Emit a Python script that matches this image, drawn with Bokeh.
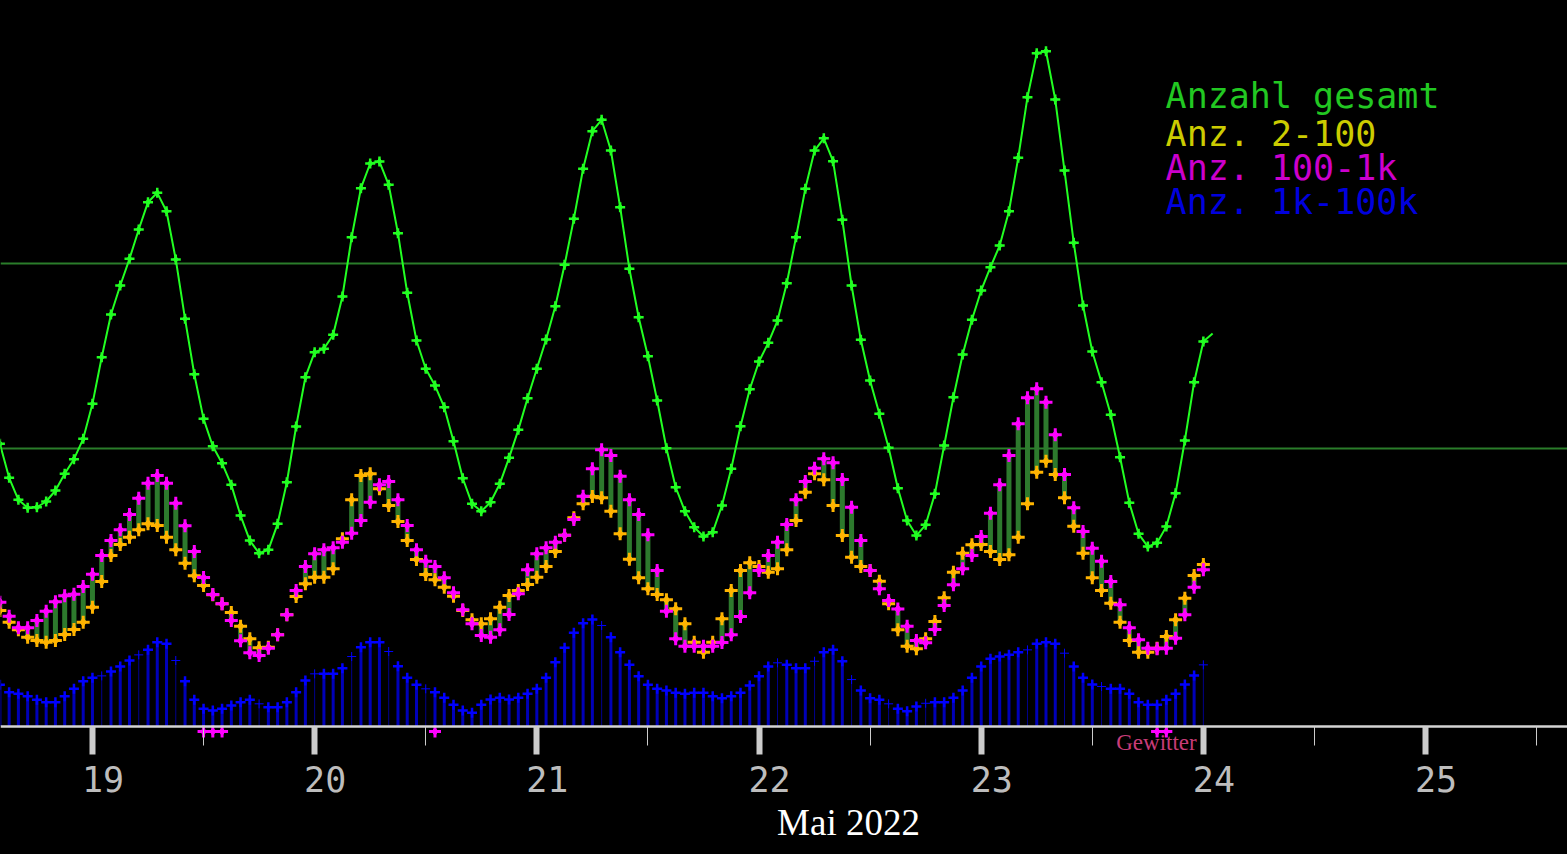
import numpy as np
import pandas as pd
from bokeh.plotting import figure
from bokeh.models import (Range1d, FixedTicker, DatetimeTickFormatter, Grid, Label,
                          ColumnDataSource, GlobalInlineStyleSheet)
from bokeh.embed import file_html
from bokeh.resources import INLINE

# ---------------- data (hourly, first value 2022-05-18 14:00) ----------------
START = "2022-05-18 14:00"

# Anzahl gesamt (last value is the running, unmarked hour)
TOTAL = [3049, 2682, 2444, 2358, 2364, 2426, 2545, 2725, 2883, 3103,
         3481, 3985, 4446, 4760, 5048, 5365, 5660, 5761, 5562, 5041, 4400, 3801,
         3319, 3023, 2840, 2606, 2274, 2004, 1867, 1904, 2185, 2634, 3236, 3769,
         4039, 4076, 4227, 4641, 5281, 5811, 6078, 6099, 5848, 5325, 4681, 4165,
         3860, 3679, 3445, 3077, 2677, 2401, 2321, 2418, 2617, 2898, 3200, 3542,
         3860, 4176, 4536, 4983, 5480, 6021, 6427, 6550, 6218, 5606, 4940, 4417,
         3996, 3517, 3002, 2580, 2321, 2148, 2048, 2094, 2383, 2779, 3239, 3639,
         3938, 4140, 4381, 4784, 5281, 5804, 6218, 6350, 6103, 5470, 4760, 4173,
         3733, 3373, 3006, 2569, 2220, 2058, 2174, 2509, 3031, 3553, 4014, 4389,
         4706, 4957, 5192, 5562, 6139, 6794, 7270, 7291, 6769, 6002, 5221, 4544,
         4046, 3715, 3363, 2904, 2412, 2077, 1939, 1979, 2156, 2515, 3085, 3715,
         4154, 4241]

# Anz. 2-100
ANZ_2_100 = [1248, 1122, 1039, 959, 924, 905, 924, 989, 1043, 1122,
             1284, 1561, 1842, 1961, 2040, 2120, 2185, 2166, 2040, 1904, 1759, 1623,
             1518, 1418, 1320, 1226, 1078, 942, 845, 851, 985, 1202, 1399, 1536,
             1608, 1608, 1699, 2023, 2444, 2707, 2725, 2563, 2383, 2210, 2004, 1799,
             1637, 1580, 1500, 1402, 1248, 1148, 1104, 1158, 1284, 1410, 1464, 1529,
             1608, 1723, 1885, 2062, 2250, 2401, 2480, 2466, 2321, 2077, 1802, 1601,
             1482, 1421, 1364, 1266, 1104, 905, 797, 905, 1158, 1464, 1680, 1763,
             1723, 1662, 1699, 1904, 2220, 2526, 2725, 2660, 2383, 2058, 1824, 1723,
             1680, 1565, 1320, 1041, 862, 834, 942, 1129, 1385, 1662, 1867, 1958,
             1961, 1885, 1799, 1850, 2040, 2401, 2742, 2861, 2717, 2466, 2159, 1867,
             1601, 1464, 1327, 1122, 924, 797, 797, 841, 967, 1148, 1381, 1626,
             1745]

# Anz. 100-1k
ANZ_100_1K = [1338, 1186, 1061, 1061, 1140, 1240, 1342, 1407, 1424, 1507,
              1640, 1842, 2004, 2120, 2285, 2461, 2623, 2707, 2623, 2407, 2163, 1885,
              1605, 1421, 1320, 1140, 921, 791, 762, 841, 985, 1202, 1464, 1723,
              1861, 1904, 1925, 1986, 2083, 2220, 2418, 2606, 2642, 2444, 2166, 1904,
              1781, 1723, 1601, 1439, 1256, 1104, 978, 959, 1039, 1205, 1428, 1688,
              1861, 1925, 1986, 2062, 2231, 2483, 2779, 2984, 2923, 2699, 2444, 2285,
              2066, 1680, 1240, 942, 862, 862, 862, 862, 902, 985, 1183, 1439,
              1680, 1842, 1986, 2177, 2444, 2642, 2786, 2887, 2844, 2663, 2364, 2004,
              1680, 1482, 1356, 1264, 1078, 924, 899, 1043, 1302, 1526, 1699, 1842,
              2048, 2299, 2606, 2923, 3265, 3546, 3643, 3499, 3146, 2717, 2358, 2102,
              1921, 1781, 1561, 1310, 1061, 931, 841, 834, 841, 949, 1202, 1500,
              1688]

# Anz. 1k-100k
ANZ_1K_100K = [445, 365, 348, 322, 283, 257, 257, 322, 402, 484,
               521, 542, 589, 643, 708, 769, 823, 905, 888, 708, 484, 283,
               186, 167, 186, 222, 257, 283, 240, 203, 203, 257, 365, 492,
               564, 564, 564, 625, 751, 851, 905, 905, 805, 646, 521, 445,
               402, 365, 305, 229, 167, 143, 229, 286, 305, 286, 305, 348,
               402, 521, 689, 845, 1007, 1111, 1151, 1086, 959, 797, 661, 538,
               445, 402, 384, 359, 348, 359, 359, 322, 300, 322, 359, 438,
               538, 643, 683, 661, 625, 625, 700, 797, 823, 700, 502, 384,
               300, 283, 240, 186, 160, 211, 246, 257, 257, 305, 384, 521,
               643, 726, 751, 769, 797, 823, 888, 905, 888, 787, 643, 521,
               448, 427, 402, 402, 348, 257, 229, 229, 283, 348, 448, 546,
               661]

# hours drawn as thin stems in the 1k-100k series
THIN_STEMS = ["2022-05-19 01:00", "2022-05-19 05:00", "2022-05-19 09:00", "2022-05-19 18:00",
              "2022-05-20 00:00", "2022-05-20 04:00", "2022-05-20 08:00", "2022-05-20 12:00",
              "2022-05-21 07:00", "2022-05-22 02:00", "2022-05-22 06:00", "2022-05-22 10:00",
              "2022-05-22 14:00", "2022-05-22 18:00", "2022-05-23 05:00", "2022-05-23 09:00",
              "2022-05-23 13:00", "2022-05-24 00:00"]

# thunderstorm (Gewitter) hours
GEWITTER = ["2022-05-19 12:00", "2022-05-19 13:00", "2022-05-19 14:00",
            "2022-05-20 13:00", "2022-05-23 19:00", "2022-05-23 20:00"]

DAYS = ["2022-05-19", "2022-05-20", "2022-05-21", "2022-05-22",
        "2022-05-23", "2022-05-24", "2022-05-25"]
GRID_LEVELS = [3000, 5000]

LEGEND = [("Anzahl gesamt", "#22c822"), ("Anz. 2-100", "#cccc00"),
          ("Anz. 100-1k", "#cc00cc"), ("Anz. 1k-100k", "#0000dd")]

# ---------------- helpers ----------------
def ms(s):
    return pd.Timestamp(s).value / 1e6

t_all = pd.date_range(START, periods=len(TOTAL), freq="h")
t = t_all[:len(ANZ_2_100)]

thin_set = set(pd.to_datetime(THIN_STEMS))
thin_mask = np.array([ti in thin_set for ti in t])
blue = np.array(ANZ_1K_100K)

# ---------------- figure ----------------
p = figure(width=1567, height=854, x_axis_type="datetime",
           x_range=Range1d(pd.Timestamp("2022-05-18 14:04"), pd.Timestamp("2022-05-25 15:20")),
           y_range=Range1d(-1388, 7839),
           y_axis_location=None, toolbar_location=None, output_backend="svg",
           min_border=0, background_fill_color="black", border_fill_color="black",
           outline_line_color=None)
p.stylesheets = [GlobalInlineStyleSheet(css="html,body{margin:0;padding:0;background:#000;overflow:hidden;}")]

for g in p.grid:
    g.visible = False
p.add_layout(Grid(dimension=1, ticker=FixedTicker(ticks=GRID_LEVELS),
                  grid_line_color="#2a7d2a", grid_line_width=2))

# x axis drawn at zero level
xa = p.xaxis[0]
xa.fixed_location = 0
day_ticks = [ms(d) for d in DAYS]
xa.ticker = FixedTicker(ticks=day_ticks,
                        minor_ticks=[ms(d + " 12:00") for d in DAYS])
fmt = "%d"
xa.formatter = DatetimeTickFormatter(microseconds=fmt, milliseconds=fmt, seconds=fmt,
                                     minsec=fmt, minutes=fmt, hourmin=fmt, hours=fmt,
                                     days=fmt, months=fmt, years=fmt)
# labels sit slightly right of their tick, as in the original
xa.major_label_overrides = {tk: "\u00a0" + pd.Timestamp(d).strftime("%d")
                            for tk, d in zip(day_ticks, DAYS)}
xa.axis_line_color = "#d4d4d4"
xa.axis_line_width = 2.5
xa.major_tick_line_color = "#cccccc"
xa.major_tick_line_width = 6
xa.major_tick_in = 0
xa.major_tick_out = 28
xa.minor_tick_line_color = "#cccccc"
xa.minor_tick_line_width = 1
xa.minor_tick_in = 0
xa.minor_tick_out = 19
xa.major_label_text_font = "DejaVu Sans Mono"
xa.major_label_text_font_size = "35px"
xa.major_label_text_color = "#bdbdbd"
xa.major_label_standoff = 6

# total count line
GREEN = "#22ff22"
p.line(t_all, TOTAL, color=GREEN, line_width=2)
p.scatter(t, TOTAL[:len(t)], marker="cross", size=10, line_width=2.5, color=GREEN)
p.scatter(t, TOTAL[:len(t)], marker="diamond", size=7, color=GREEN)

# 1k-100k stems
src_thick = ColumnDataSource(dict(x=t[~thin_mask], y=blue[~thin_mask]))
src_thin = ColumnDataSource(dict(x=t[thin_mask], y=blue[thin_mask]))
p.segment(x0="x", y0=0, x1="x", y1="y", source=src_thick, line_width=3, color="#0000b8")
p.segment(x0="x", y0=0, x1="x", y1="y", source=src_thin, line_width=1, color="#00008c")
p.scatter("x", "y", source=src_thick, marker="cross", size=10, line_width=2.5, color="#0000ff")
p.scatter("x", "y", source=src_thin, marker="cross", size=9, line_width=1, color="#0000ff")

# 2-100 vs 100-1k bars
p.segment(x0=t, y0=ANZ_2_100, x1=t, y1=ANZ_100_1K, line_width=5, color="#2d7a2d")
for vals, col in ((ANZ_2_100, "#ffb400"), (ANZ_100_1K, "#ff00ff")):
    p.scatter(t, vals, marker="cross", size=13, line_width=3, color=col)
    p.scatter(t, vals, marker="diamond", size=9, color=col)

# Gewitter markers just below the axis
GEWITTER_MARK_Y = -60
g_t = pd.to_datetime(GEWITTER)
p.scatter(g_t, [GEWITTER_MARK_Y] * len(g_t), marker="cross", size=12, line_width=3,
          color="#ff00ff")
p.scatter(g_t, [GEWITTER_MARK_Y] * len(g_t), marker="diamond", size=8, color="#ff00ff")

# legend texts
legend_x = ms("2022-05-23 19:55")
legend_y = [6802, 6402, 6029, 5662]
for (txt, col), ly in zip(LEGEND, legend_y):
    p.add_layout(Label(x=legend_x, y=ly, text=txt, text_color=col,
                       text_font="DejaVu Sans Mono", text_font_size="35px",
                       text_baseline="alphabetic", text_align="left"))

p.add_layout(Label(x=ms("2022-05-23 18:56"), y=-178, text="Gewitter", text_color="#c83c78",
                   text_font="Liberation Serif", text_font_size="23px",
                   text_baseline="alphabetic", text_align="center"))
p.add_layout(Label(x=ms("2022-05-22 09:40"), y=-1037, text="Mai 2022", text_color="#ffffff",
                   text_font="Liberation Serif", text_font_size="37px",
                   text_baseline="alphabetic", text_align="center"))

open("out.html", "w").write(file_html(p, INLINE))
